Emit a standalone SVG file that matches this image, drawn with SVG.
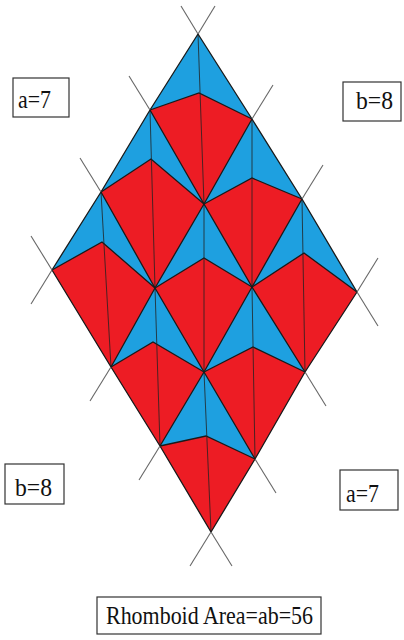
<svg xmlns="http://www.w3.org/2000/svg" width="404" height="640" viewBox="0 0 404 640">
<style>
.box{fill:#fff;stroke:#333;stroke-width:1.2}
.lbl{font-family:"Liberation Serif","Times New Roman",serif;font-size:25px;fill:#111}
.blue{fill:#1ea0e0}
.red{fill:#ed1c24}
.grid{fill:none;stroke:#1a1a1a;stroke-width:1.3;stroke-linejoin:round}
.ext{fill:none;stroke:#666;stroke-width:1.1}
.kite{fill:none;stroke:#1a1a1a;stroke-width:1.3}
.diag{fill:none;stroke:#222;stroke-width:0.8}
</style>
<rect width="404" height="640" fill="#fff"/>
<g id="tiling">
<polygon class="blue" points="198,34 252,119 302,199 357,292 305,372 255,459 211,532 160,446 111,367 52,270 101,192 150,110"/>
<g id="kites">
<polygon class="red" points="199,93 252,119 204,204 150,110"/>
<polygon class="red" points="252,178 302,199 252,287 204,204"/>
<polygon class="red" points="304,253 357,292 305,372 252,287"/>
<polygon class="red" points="151,159 204,204 155,288 101,192"/>
<polygon class="red" points="204,258 252,287 204,372 155,288"/>
<polygon class="red" points="253,347 305,372 255,459 204,372"/>
<polygon class="red" points="102,242 155,288 111,367 52,270"/>
<polygon class="red" points="153,342 204,372 160,446 111,367"/>
<polygon class="red" points="206,436 255,459 211,532 160,446"/>
</g>
</g>
<g id="connectors">
<g id="kite-edges">
<polyline class="kite" points="150,110 199,93 252,119"/>
<polyline class="kite" points="204,204 252,178 302,199"/>
<polyline class="kite" points="252,287 304,253 357,292"/>
<polyline class="kite" points="101,192 151,159 204,204"/>
<polyline class="kite" points="155,288 204,258 252,287"/>
<polyline class="kite" points="204,372 253,347 305,372"/>
<polyline class="kite" points="52,270 102,242 155,288"/>
<polyline class="kite" points="111,367 153,342 204,372"/>
<polyline class="kite" points="160,446 206,436 255,459"/>
</g>
<g id="diagonals">
<polyline class="diag" points="198,34 204,204 204,372 211,532"/>
<polyline class="diag" points="252,119 252,287 255,459"/>
<polyline class="diag" points="302,199 305,372"/>
<polyline class="diag" points="150,110 155,288 160,446"/>
<polyline class="diag" points="101,192 111,367"/>
</g>
<g id="grid">
<polyline class="grid" points="198,34 252,119 302,199 357,292"/>
<polyline class="grid" points="150,110 204,204 252,287 305,372"/>
<polyline class="grid" points="101,192 155,288 204,372 255,459"/>
<polyline class="grid" points="52,270 111,367 160,446 211,532"/>
<polyline class="grid" points="198,34 150,110 101,192 52,270"/>
<polyline class="grid" points="252,119 204,204 155,288 111,367"/>
<polyline class="grid" points="302,199 252,287 204,372 160,446"/>
<polyline class="grid" points="357,292 305,372 255,459 211,532"/>
</g>
<g id="extensions">
<line class="ext" x1="181" y1="6" x2="198" y2="34"/>
<line class="ext" x1="357" y1="292" x2="378" y2="326"/>
<line class="ext" x1="129" y1="76" x2="150" y2="110"/>
<line class="ext" x1="305" y1="372" x2="326" y2="406"/>
<line class="ext" x1="80" y1="158" x2="101" y2="192"/>
<line class="ext" x1="255" y1="459" x2="276" y2="493"/>
<line class="ext" x1="31" y1="236" x2="52" y2="270"/>
<line class="ext" x1="211" y1="532" x2="232" y2="566"/>
<line class="ext" x1="215" y1="6" x2="198" y2="34"/>
<line class="ext" x1="52" y1="270" x2="31" y2="304"/>
<line class="ext" x1="273" y1="85" x2="252" y2="119"/>
<line class="ext" x1="111" y1="367" x2="90" y2="401"/>
<line class="ext" x1="323" y1="165" x2="302" y2="199"/>
<line class="ext" x1="160" y1="446" x2="139" y2="480"/>
<line class="ext" x1="378" y1="258" x2="357" y2="292"/>
<line class="ext" x1="211" y1="532" x2="190" y2="566"/>
</g>
</g>
<g id="label-a-top">
<rect class="box" x="13" y="78" width="56" height="39"/>
<text class="lbl" x="18" y="108" textLength="33" lengthAdjust="spacingAndGlyphs">a=7</text>
</g>
<g id="label-b-top">
<rect class="box" x="343" y="82" width="58" height="39"/>
<text class="lbl" x="356" y="109" textLength="37" lengthAdjust="spacingAndGlyphs">b=8</text>
</g>
<g id="label-b-bottom">
<rect class="box" x="5" y="464" width="59" height="40"/>
<text class="lbl" x="15" y="496" textLength="37" lengthAdjust="spacingAndGlyphs">b=8</text>
</g>
<g id="label-a-bottom">
<rect class="box" x="340" y="470" width="58" height="40"/>
<text class="lbl" x="346" y="502" textLength="33" lengthAdjust="spacingAndGlyphs">a=7</text>
</g>
<g id="label-area">
<rect class="box" x="97" y="597" width="224" height="37"/>
<text class="lbl" x="106" y="624" textLength="207" lengthAdjust="spacingAndGlyphs">Rhomboid Area=ab=56</text>
</g>
</svg>
